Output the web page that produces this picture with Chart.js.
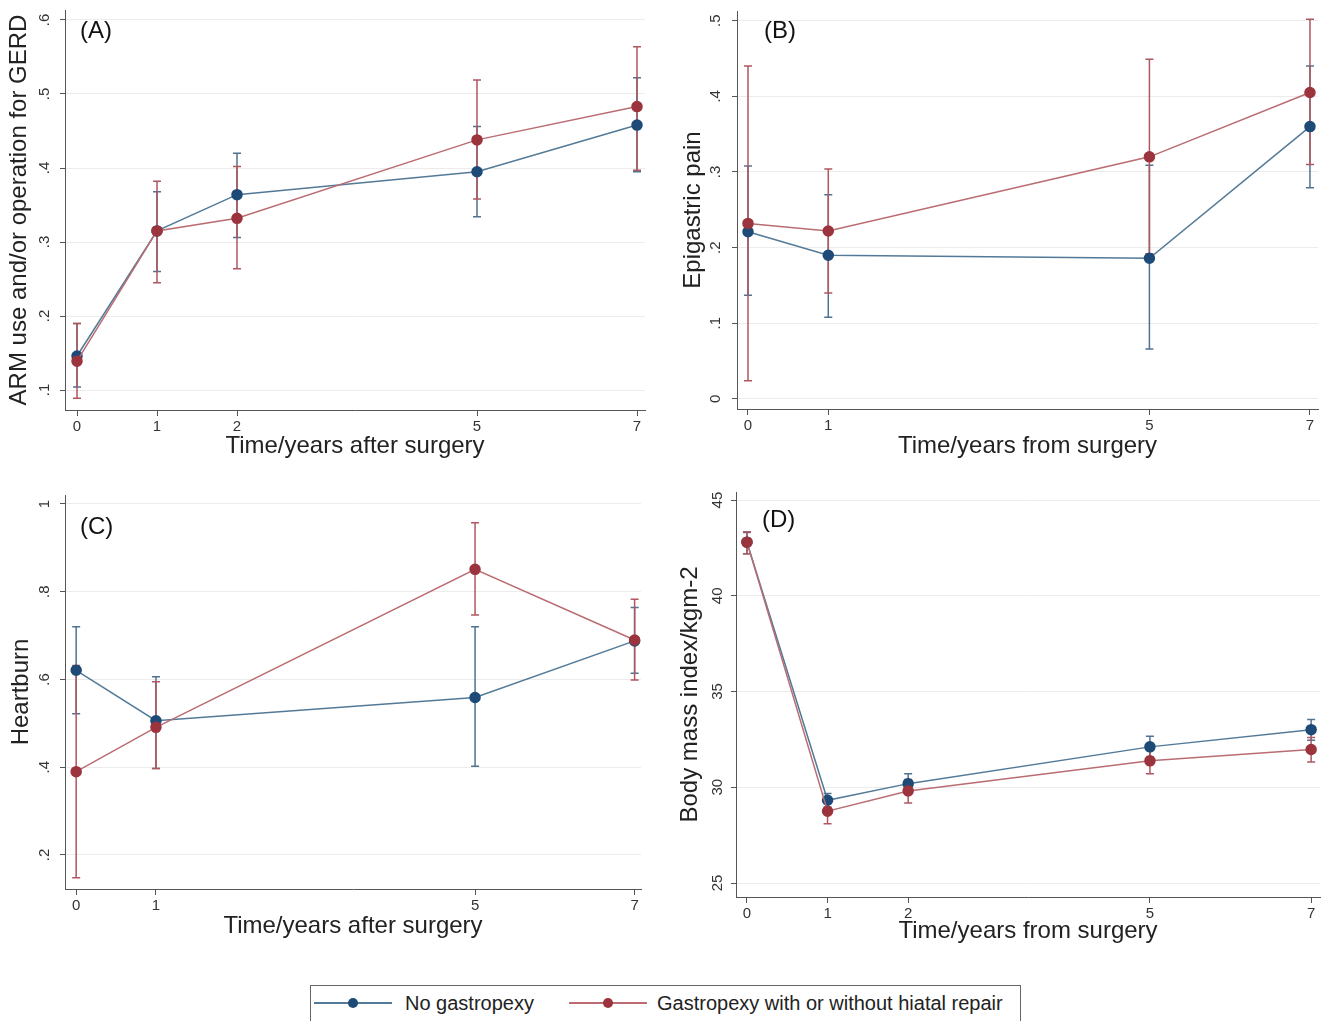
<!DOCTYPE html>
<html>
<head>
<meta charset="utf-8">
<script src="https://cdn.jsdelivr.net/npm/chart.js@4.4.1/dist/chart.umd.min.js"></script>
<style>
  body { margin: 0; background: #fff; width: 1327px; height: 1021px; overflow: hidden; position: relative; font-family: "Liberation Sans", Arial, sans-serif; }
  .panel { position: absolute; }
  #legend { position: absolute; left: 310px; top: 985px; width: 711px; height: 40px; border: 1px solid #666; box-sizing: border-box; }
  .item { position: absolute; top: 6px; font-size: 20px; color: #222; white-space: nowrap; }
  .sym { position: absolute; top: 16px; height: 2px; width: 78px; }
  .sym i { position: absolute; left: 34px; top: -4px; width: 10px; height: 10px; border-radius: 50%; }
</style>
</head>
<body>
<div class="panel" style="left:0;top:0"><canvas id="panelA" width="655" height="470"></canvas></div>
<div class="panel" style="left:660px;top:0"><canvas id="panelB" width="667" height="470"></canvas></div>
<div class="panel" style="left:0;top:480px"><canvas id="panelC" width="655" height="470"></canvas></div>
<div class="panel" style="left:660px;top:480px"><canvas id="panelD" width="667" height="470"></canvas></div>
<div id="legend"></div>

<script>
// series names
const seriesNames = ['No gastropexy', 'Gastropexy with or without hiatal repair'];

// (A) ARM use and/or operation for GERD
const yearsA = [0, 1, 2, 5, 7];
const noGpA = [0.146, 0.315, 0.364, 0.395, 0.458];
const noGpALo = [0.104, 0.26, 0.306, 0.334, 0.395];
const noGpAHi = [0.19, 0.368, 0.42, 0.456, 0.522];
const gpA = [0.139, 0.315, 0.332, 0.438, 0.483];
const gpALo = [0.089, 0.245, 0.264, 0.358, 0.397];
const gpAHi = [0.19, 0.382, 0.402, 0.519, 0.564];
const yTicksA = [0.1, 0.2, 0.3, 0.4, 0.5, 0.6];

// (B) Epigastric pain
const yearsB = [0, 1, 5, 7];
const noGpB = [0.221, 0.19, 0.186, 0.36];
const noGpBLo = [0.137, 0.108, 0.066, 0.279];
const noGpBHi = [0.308, 0.27, 0.309, 0.44];
const gpB = [0.232, 0.222, 0.32, 0.405];
const gpBLo = [0.024, 0.14, 0.192, 0.31];
const gpBHi = [0.44, 0.304, 0.449, 0.502];
const yTicksB = [0, 0.1, 0.2, 0.3, 0.4, 0.5];

// (C) Heartburn
const yearsC = [0, 1, 5, 7];
const noGpC = [0.621, 0.506, 0.559, 0.688];
const noGpCLo = [0.522, 0.397, 0.402, 0.614];
const noGpCHi = [0.72, 0.606, 0.72, 0.764];
const gpC = [0.39, 0.491, 0.851, 0.69];
const gpCLo = [0.148, 0.397, 0.747, 0.599];
const gpCHi = [0.632, 0.595, 0.957, 0.783];
const yTicksC = [0.2, 0.4, 0.6, 0.8, 1];

// (D) Body mass index
const yearsD = [0, 1, 2, 5, 7];
const noGpD = [42.8, 29.32, 30.19, 32.11, 33.01];
const noGpDLo = [42.2, 28.97, 29.67, 31.58, 32.46];
const noGpDHi = [43.3, 29.67, 30.71, 32.67, 33.54];
const gpD = [42.8, 28.75, 29.81, 31.38, 31.97];
const gpDLo = [42.2, 28.1, 29.18, 30.71, 31.32];
const gpDHi = [43.35, 29.35, 30.4, 31.98, 32.6];
const yTicksD = [25, 30, 35, 40, 45];

const blue = { mark: '#1d4a77', line: '#527a98', err: '#4f7391' };
const red = { mark: '#9b343d', line: '#ba6c72', err: '#b0575f' };
const font = '"Liberation Sans", Arial, sans-serif';

const errorBars = {
  id: 'errorBars',
  beforeDatasetsDraw(chart) {
    const { ctx, scales: { x, y } } = chart;
    chart.data.datasets.forEach(ds => {
      ctx.save();
      ctx.strokeStyle = ds.errColor;
      ctx.lineWidth = 1.5;
      ds.data.forEach((p, i) => {
        const px = x.getPixelForValue(p.x);
        const y1 = y.getPixelForValue(ds.lo[i]);
        const y2 = y.getPixelForValue(ds.hi[i]);
        ctx.beginPath();
        ctx.moveTo(px, y1); ctx.lineTo(px, y2);
        ctx.moveTo(px - 4, y1); ctx.lineTo(px + 4, y1);
        ctx.moveTo(px - 4, y2); ctx.lineTo(px + 4, y2);
        ctx.stroke();
      });
      ctx.restore();
    });
  }
};

const panelLabel = {
  id: 'panelLabel',
  afterDraw(chart, args, opts) {
    const { ctx, chartArea } = chart;
    ctx.save();
    ctx.font = '24px ' + font;
    ctx.fillStyle = '#111';
    ctx.textBaseline = 'middle';
    ctx.fillText(opts.text, chartArea.left + opts.dx, chartArea.top + opts.dy);
    ctx.restore();
  }
};

function fmt(v) {
  return String(+v.toFixed(2)).replace(/^0\./, '.');
}

function series(years, vals, lo, hi, c, name, order) {
  return {
    label: name,
    data: years.map((x, i) => ({ x, y: vals[i] })),
    lo, hi,
    errColor: c.err,
    borderColor: c.line,
    borderWidth: 1.5,
    pointBackgroundColor: c.mark,
    pointBorderColor: c.mark,
    pointRadius: 5,
    order
  };
}

function makePanel(id, p) {
  new Chart(document.getElementById(id), {
    type: 'line',
    data: {
      datasets: [
        series(p.years, p.blue, p.blueLo, p.blueHi, blue, seriesNames[0], 2),
        series(p.years, p.red, p.redLo, p.redHi, red, seriesNames[1], 1)
      ]
    },
    plugins: [errorBars, panelLabel],
    options: {
      responsive: false,
      animation: false,
      layout: { padding: p.padding },
      plugins: {
        legend: { display: false },
        tooltip: { enabled: false },
        panelLabel: p.label
      },
      scales: {
        x: {
          type: 'linear',
          min: p.xMin, max: p.xMax,
          afterBuildTicks: s => { s.ticks = p.years.map(v => ({ value: v })); },
          afterFit: s => { s.height = p.xHeight; s.paddingLeft = 0; s.paddingRight = 0; },
          grid: { drawOnChartArea: false, tickLength: 6, color: '#555' },
          border: { color: '#555', width: 1 },
          ticks: { autoSkip: false, maxRotation: 0, padding: 2, color: '#333', font: { family: font, size: 15 } },
          title: { display: true, text: p.xTitle, color: '#222', font: { family: font, size: 24 }, padding: { top: 0, bottom: p.xTitlePad } }
        },
        y: {
          min: p.yMin, max: p.yMax,
          afterBuildTicks: s => { s.ticks = p.yTicks.map(v => ({ value: v })); },
          afterFit: s => { s.width = p.yWidth; s.paddingTop = 0; s.paddingBottom = 0; },
          grid: { color: '#ececec', tickColor: '#555', tickLength: 5 },
          border: { color: '#555', width: 1 },
          ticks: {
            minRotation: 90, maxRotation: 90, crossAlign: 'center',
            padding: p.yPad, color: '#333', font: { family: font, size: 15 },
            callback: v => fmt(v)
          },
          title: { display: true, text: p.yTitle, color: '#222', font: { family: font, size: 24 }, padding: { top: p.yTitlePad, bottom: 0 } }
        }
      }
    }
  });
}

makePanel('panelA', {
  years: yearsA, blue: noGpA, blueLo: noGpALo, blueHi: noGpAHi, red: gpA, redLo: gpALo, redHi: gpAHi,
  yTicks: yTicksA, yMin: 0.073, yMax: 0.6135, xMin: -0.15, xMax: 7.1,
  padding: { top: 10, right: 10, left: 0, bottom: 0 }, xHeight: 60, yWidth: 65, yPad: 9, yTitlePad: 5, xTitlePad: 9,
  xTitle: 'Time/years after surgery', yTitle: 'ARM use and/or operation for GERD',
  label: { text: '(A)', dx: 15, dy: 21 }
});

makePanel('panelB', {
  years: yearsB, blue: noGpB, blueLo: noGpBLo, blueHi: noGpBHi, red: gpB, redLo: gpBLo, redHi: gpBHi,
  yTicks: yTicksB, yMin: -0.0133, yMax: 0.5128, xMin: -0.137, xMax: 7.1,
  padding: { top: 11, right: 9, left: 0, bottom: 0 }, xHeight: 61, yWidth: 77, yPad: 10, yTitlePad: 19, xTitlePad: 9,
  xTitle: 'Time/years from surgery', yTitle: 'Epigastric pain',
  label: { text: '(B)', dx: 27, dy: 20 }
});

makePanel('panelC', {
  years: yearsC, blue: noGpC, blueLo: noGpCLo, blueHi: noGpCHi, red: gpC, redLo: gpCLo, redHi: gpCHi,
  yTicks: yTicksC, yMin: 0.1225, yMax: 1.0205, xMin: -0.14, xMax: 7.08,
  padding: { top: 15, right: 14, left: 0, bottom: 0 }, xHeight: 61, yWidth: 65, yPad: 9, yTitlePad: 7, xTitlePad: 9,
  xTitle: 'Time/years after surgery', yTitle: 'Heartburn',
  label: { text: '(C)', dx: 15, dy: 32 }
});

makePanel('panelD', {
  years: yearsD, blue: noGpD, blueLo: noGpDLo, blueHi: noGpDHi, red: gpD, redLo: gpDLo, redHi: gpDHi,
  yTicks: yTicksD, yMin: 24.27, yMax: 45.42, xMin: -0.136, xMax: 7.11,
  padding: { top: 12, right: 7, left: 0, bottom: 0 }, xHeight: 53, yWidth: 76, yPad: 5, yTitlePad: 16, xTitlePad: 4,
  xTitle: 'Time/years from surgery', yTitle: 'Body mass index/kgm-2',
  label: { text: '(D)', dx: 26, dy: 28 }
});

// legend
const legend = document.getElementById('legend');
const legendItems = [
  { c: blue, symX: 3, textX: 94 },
  { c: red, symX: 258, textX: 346 }
];
legendItems.forEach((it, i) => {
  const sym = document.createElement('div');
  sym.className = 'sym';
  sym.style.left = it.symX + 'px';
  sym.style.background = it.c.line;
  const dot = document.createElement('i');
  dot.style.background = it.c.mark;
  sym.appendChild(dot);
  legend.appendChild(sym);
  const txt = document.createElement('div');
  txt.className = 'item';
  txt.style.left = it.textX + 'px';
  txt.textContent = seriesNames[i];
  legend.appendChild(txt);
});
</script>
</body>
</html>
